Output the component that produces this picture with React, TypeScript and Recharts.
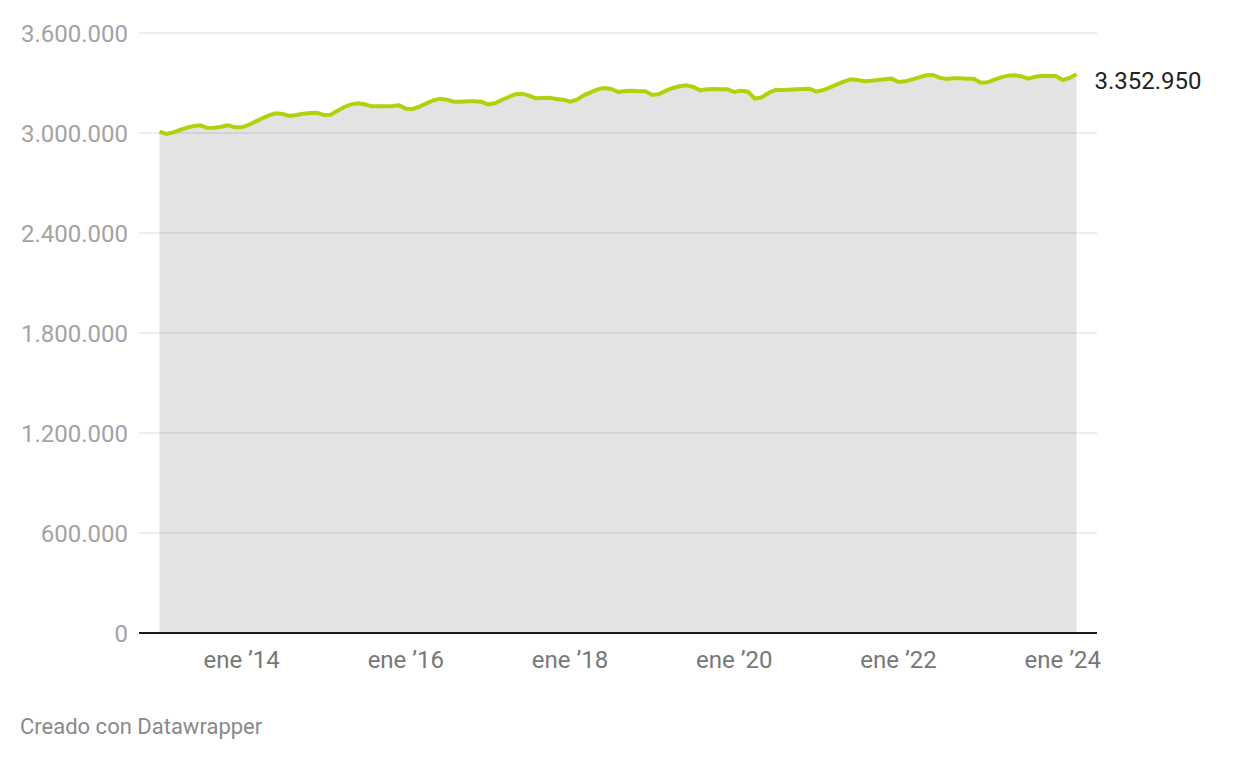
import { ComposedChart, Area, XAxis, YAxis, CartesianGrid } from 'recharts';

// monthly values, Jan 2013 .. Mar 2024
const values = [
	3008000, 2994000, 3004000, 3018000, 3032000, 3042000, 3046000, 3030000, 3032000, 3038000, 3046000, 3034000,
	3034000, 3048000, 3068000, 3088000, 3106000, 3118000, 3114000, 3102000, 3108000, 3116000, 3120000, 3122000,
	3108000, 3110000, 3134000, 3156000, 3172000, 3178000, 3172000, 3160000, 3160000, 3160000, 3162000, 3166000,
	3146000, 3144000, 3158000, 3178000, 3196000, 3206000, 3200000, 3188000, 3188000, 3190000, 3190000, 3188000,
	3172000, 3178000, 3198000, 3216000, 3232000, 3236000, 3224000, 3208000, 3210000, 3212000, 3204000, 3200000,
	3188000, 3200000, 3226000, 3244000, 3262000, 3270000, 3264000, 3246000, 3252000, 3254000, 3250000, 3250000,
	3228000, 3234000, 3254000, 3270000, 3280000, 3286000, 3276000, 3256000, 3262000, 3264000, 3262000, 3262000,
	3246000, 3254000, 3248000, 3206000, 3214000, 3240000, 3258000, 3258000, 3260000, 3262000, 3264000, 3266000,
	3248000, 3258000, 3274000, 3292000, 3308000, 3322000, 3318000, 3310000, 3314000, 3318000, 3322000, 3326000,
	3306000, 3310000, 3322000, 3334000, 3346000, 3348000, 3332000, 3324000, 3328000, 3328000, 3326000, 3326000,
	3302000, 3304000, 3320000, 3334000, 3344000, 3346000, 3340000, 3326000, 3338000, 3344000, 3342000, 3342000,
	3318000, 3330000, 3352950,
];

const xTicks = [12, 36, 60, 84, 108, 132];
const xTickLabels = ['ene ’14', 'ene ’16', 'ene ’18', 'ene ’20', 'ene ’22', 'ene ’24'];
const yTicks = [0, 600000, 1200000, 1800000, 2400000, 3000000, 3600000];

const data = values.map((v, i) => ({ i, v }));

const fmt = (n: number) => String(Math.round(n)).replace(/\B(?=(\d{3})+(?!\d))/g, '.');

const FONT = 'Roboto, "Noto Sans", sans-serif';

function EndLabel(props: any) {
	const { x, y, index } = props;
	if (index !== values.length - 1) return null;
	return (
		<text x={x + 18} y={y + 6} dy="0.355em" fill="#222" fontSize={24} fontFamily={FONT}>
			{fmt(values[index])}
		</text>
	);
}

export default function App() {
	return (
		<div style={{ position: 'absolute', left: 0, top: 0, width: 1240, height: 760, background: '#fff', fontFamily: FONT }}>
			<ComposedChart width={1240} height={760} data={data} margin={{ top: 33, right: 143, bottom: 87, left: 0 }}>
				<CartesianGrid vertical={false} stroke="#dcdcdc" strokeWidth={1} />
				<XAxis
					type="number"
					dataKey="i"
					domain={[-3, 137]}
					ticks={xTicks}
					tickFormatter={(t: number) => xTickLabels[xTicks.indexOf(t)] ?? ''}
					tickLine={false}
					tickSize={0}
					tickMargin={18}
					height={40}
					axisLine={{ stroke: '#1a1a1a', strokeWidth: 2 }}
					tick={{ fill: '#777', fontSize: 24, fontFamily: FONT }}
					interval={0}
				/>
				<YAxis
					type="number"
					domain={[0, 3600000]}
					ticks={yTicks}
					tickFormatter={fmt}
					axisLine={false}
					tickLine={false}
					tickSize={0}
					tickMargin={11}
					width={139}
					tick={{ fill: '#a3a3a3', fontSize: 24, fontFamily: FONT }}
					interval={0}
				/>
				<Area
					type="linear"
					dataKey="v"
					stroke="#b3d10a"
					strokeWidth={4}
					fill="#000"
					fillOpacity={0.11}
					dot={false}
					activeDot={false}
					label={<EndLabel />}
					isAnimationActive={false}
				/>
			</ComposedChart>
			<div style={{ position: 'absolute', left: 20, top: 714, fontSize: 22, color: '#8a8a8a', fontFamily: FONT }}>
				Creado con Datawrapper
			</div>
		</div>
	);
}
